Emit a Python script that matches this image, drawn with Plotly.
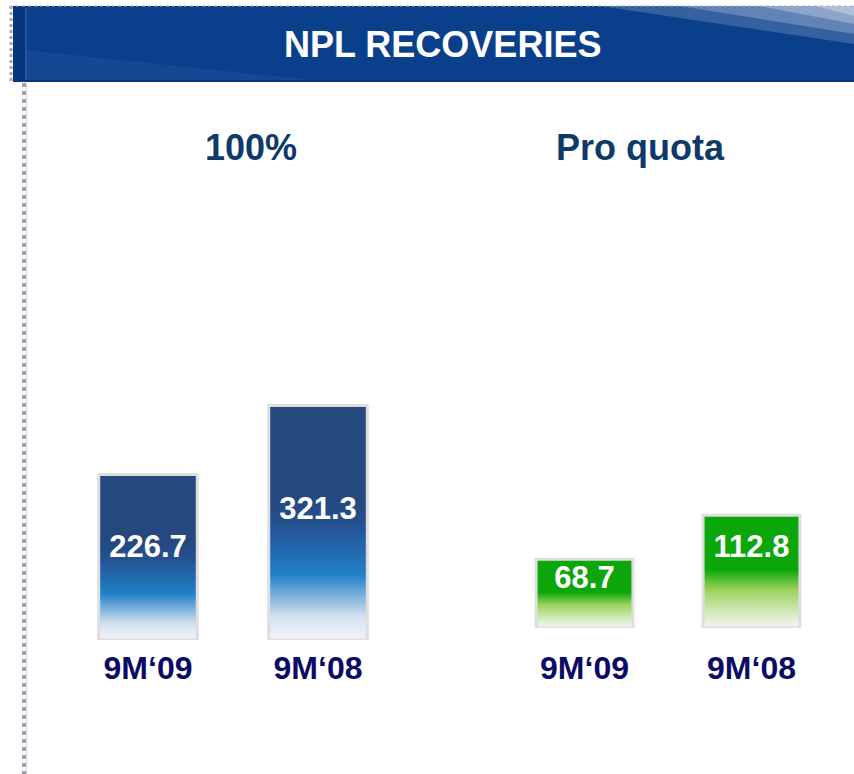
import plotly.graph_objects as go

# ---- data ----
categories = ["9M‘09", "9M‘08"]
values_100 = [226.7, 321.3]
values_pro_quota = [68.7, 112.8]
panel_titles = ["100%", "Pro quota"]
chart_title = "NPL RECOVERIES"

W, H = 854, 774
FONT = "Liberation Sans, Arial, Helvetica, sans-serif"
BAR_W = 0.58

blue_scale = [[0.0, "#f3f6fa"], [0.10, "#d3e1ee"], [0.28, "#2180c8"],
              [0.50, "#24508f"], [0.60, "#25487f"], [1.0, "#25487f"]]
green_scale = [[0.0, "#f3f8ef"], [0.14, "#d3e9bd"], [0.34, "#9bd25a"],
               [0.52, "#0aa60a"], [1.0, "#0aa60a"]]


def px_x(p):
    return p / W


def px_y(p):
    return 1 - p / H


fig = go.Figure()


def add_panel(vals, xa, ya, scale, label_frac):
    for i, v in enumerate(vals):
        fig.add_trace(go.Scatter(
            x=[i - BAR_W / 2, i - BAR_W / 2, i + BAR_W / 2, i + BAR_W / 2, i - BAR_W / 2],
            y=[0, v, v, 0, 0],
            mode="lines", fill="toself",
            fillgradient=dict(type="vertical", colorscale=scale),
            line=dict(color="#dedede", width=3),
            xaxis=xa, yaxis=ya, hoverinfo="skip", showlegend=False,
        ))
    fig.add_trace(go.Scatter(
        x=list(range(len(vals))), y=[v * label_frac for v in vals],
        mode="text", text=[f"{v:.1f}" for v in vals],
        textfont=dict(family=FONT, size=31, color="white", weight="bold"),
        xaxis=xa, yaxis=ya, hoverinfo="skip", showlegend=False,
    ))


add_panel(values_100, "x", "y", blue_scale, 0.55)
add_panel(values_pro_quota, "x2", "y2", green_scale, 0.70)

axis_common = dict(showgrid=False, zeroline=False, showline=False, ticks="",
                   range=[-0.5, 1.5], tickvals=[0, 1], ticktext=categories,
                   tickfont=dict(family=FONT, size=32, color="#0b0b66", weight="bold"),
                   fixedrange=True)

fig.update_layout(
    width=W, height=H,
    margin=dict(l=0, r=0, t=0, b=0),
    paper_bgcolor="white", plot_bgcolor="rgba(0,0,0,0)",
    xaxis=dict(domain=[px_x(63), px_x(403)], anchor="y", ticklabelstandoff=6, **axis_common),
    yaxis=dict(domain=[px_y(640), px_y(348)], range=[0, 400], visible=False, fixedrange=True),
    xaxis2=dict(domain=[px_x(501), px_x(835)], anchor="y2", ticklabelstandoff=18, **axis_common),
    yaxis2=dict(domain=[px_y(628), px_y(428)], range=[0, 200], visible=False, fixedrange=True),
)

shapes = []
# banner
shapes.append(dict(type="rect", xref="paper", yref="paper",
                   x0=px_x(13), x1=1, y0=px_y(82), y1=px_y(6),
                   fillcolor="#0a3f8c", line=dict(width=0), layer="below"))
# subtle lighter lower-left glow
shapes.append(dict(type="path", xref="paper", yref="paper",
                   path=f"M {px_x(25)},{px_y(82)} L {px_x(25)},{px_y(50)} L {px_x(330)},{px_y(82)} Z",
                   fillcolor="rgba(120,160,220,0.10)", line=dict(width=0), layer="below"))
# left darker strip of banner
shapes.append(dict(type="rect", xref="paper", yref="paper",
                   x0=px_x(13), x1=px_x(25), y0=px_y(82), y1=px_y(6),
                   fillcolor="#07367c", line=dict(width=0), layer="below"))
shapes.append(dict(type="line", xref="paper", yref="paper",
                   x0=px_x(26), x1=px_x(26), y0=px_y(82), y1=px_y(8),
                   line=dict(color="#2d5ea6", width=1.5), layer="below"))
# glossy streak top right
for x0, yend, op in [(600, 44, 0.18), (680, 34, 0.22), (760, 24, 0.28), (815, 16, 0.30)]:
    shapes.append(dict(type="path", xref="paper", yref="paper",
                       path=f"M {px_x(x0)},{px_y(6)} L {px_x(854)},{px_y(6)} L {px_x(854)},{px_y(yend)} Z",
                       fillcolor=f"rgba(255,255,255,{op})", line=dict(width=0), layer="below"))
# bottom darker edge of banner
shapes.append(dict(type="line", xref="paper", yref="paper",
                   x0=px_x(13), x1=1, y0=px_y(81), y1=px_y(81),
                   line=dict(color="#083577", width=2), layer="below"))
# dotted borders
shapes.append(dict(type="line", xref="paper", yref="paper",
                   x0=px_x(10), x1=1, y0=px_y(6), y1=px_y(6),
                   line=dict(color="#b0b0b0", width=1, dash="dot"), layer="below"))
shapes.append(dict(type="line", xref="paper", yref="paper",
                   x0=px_x(11), x1=px_x(11), y0=px_y(6), y1=px_y(82),
                   line=dict(color="#a8a8a8", width=3, dash="dot"), layer="below"))
shapes.append(dict(type="line", xref="paper", yref="paper",
                   x0=px_x(24), x1=px_x(24), y0=px_y(83), y1=0,
                   line=dict(color="#a0a0a8", width=4, dash="dot"), layer="below"))
shapes.append(dict(type="line", xref="paper", yref="paper",
                   x0=px_x(26.5), x1=px_x(26.5), y0=px_y(83), y1=0,
                   line=dict(color="#d4d4f4", width=1), layer="below"))

annotations = [
    dict(text=chart_title, xref="paper", yref="paper", x=px_x(442), y=px_y(45),
         showarrow=False, xanchor="center", yanchor="middle",
         font=dict(family=FONT, size=36, color="white", weight="bold")),
    dict(text=panel_titles[0], xref="paper", yref="paper", x=px_x(251), y=px_y(147),
         showarrow=False, xanchor="center", yanchor="middle",
         font=dict(family=FONT, size=36, color="#0e3a6a", weight="bold")),
    dict(text=panel_titles[1], xref="paper", yref="paper", x=px_x(640), y=px_y(147),
         showarrow=False, xanchor="center", yanchor="middle",
         font=dict(family=FONT, size=36, color="#0e3a6a", weight="bold")),
]

fig.update_layout(shapes=shapes, annotations=annotations)

fig.write_html("out.html", config={"displayModeBar": False},
               post_script="document.body.style.margin='0';")
